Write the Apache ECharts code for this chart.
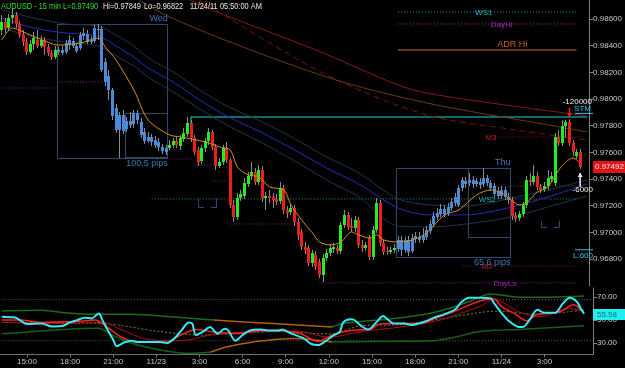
<!DOCTYPE html>
<html><head><meta charset="utf-8">
<script src="https://cdn.jsdelivr.net/npm/echarts@6/dist/echarts.min.js"></script>
<style>html,body{margin:0;padding:0;background:#000;}#c{width:625px;height:368px;}</style>
</head><body><div id="c"></div><script>
// ---------------- DATA ----------------
// 15-min bars, AUDUSD, 11/22 13:15 .. 11/24 05:45 (163 bars)
const openP = [
0.98518,0.98578,0.98533,0.98608,0.98630,0.98563,0.98480,0.98428,0.98353,0.98413,
0.98443,0.98398,0.98443,0.98390,0.98345,0.98315,0.98353,0.98368,0.98353,0.98413,
0.98435,0.98398,0.98383,0.98473,0.98488,0.98428,0.98435,0.98518,0.98525,0.98278,
0.98173,0.98068,0.97933,0.97768,0.97881,0.97776,0.97836,0.97813,0.97896,0.97828,
0.97753,0.97686,0.97716,0.97693,0.97678,0.97641,0.97603,0.97633,0.97656,0.97686,
0.97648,0.97701,0.97738,0.97821,0.97708,0.97618,0.97536,0.97633,0.97686,0.97753,
0.97641,0.97498,0.97528,0.97633,0.97543,0.97206,0.97116,0.97258,0.97273,0.97363,
0.97423,0.97453,0.97378,0.97468,0.97258,0.97273,0.97266,0.97251,0.97236,0.97333,
0.97168,0.97153,0.97183,0.97078,0.97003,0.96891,0.96883,0.96771,0.96831,0.96778,
0.96681,0.96808,0.96846,0.96876,0.96883,0.96861,0.97056,0.97131,0.97048,0.97033,
0.97093,0.96906,0.96883,0.96958,0.96816,0.97018,0.97221,0.96921,0.96861,0.96853,
0.96868,0.96876,0.96943,0.96868,0.96943,0.96861,0.96950,0.96966,0.96943,0.96966,
0.97011,0.97063,0.97116,0.97138,0.97176,0.97146,0.97183,0.97221,0.97206,0.97333,
0.97386,0.97371,0.97393,0.97363,0.97378,0.97363,0.97408,0.97371,0.97348,0.97311,
0.97273,0.97318,0.97266,0.97243,0.97123,0.97108,0.97138,0.97206,0.97393,0.97378,
0.97423,0.97341,0.97326,0.97348,0.97401,0.97371,0.97716,0.97671,0.97798,0.97828,
0.97671,0.97573,0.97603];
const highP = [
0.98630,0.98608,0.98638,0.98683,0.98653,0.98585,0.98518,0.98458,0.98443,0.98503,
0.98518,0.98473,0.98465,0.98413,0.98368,0.98398,0.98390,0.98398,0.98443,0.98480,
0.98458,0.98420,0.98503,0.98533,0.98518,0.98473,0.98555,0.98563,0.98548,0.98308,
0.98218,0.98083,0.97963,0.97903,0.97918,0.97866,0.97903,0.97918,0.97918,0.97858,
0.97783,0.97753,0.97738,0.97723,0.97708,0.97663,0.97656,0.97693,0.97708,0.97723,
0.97731,0.97783,0.97866,0.97843,0.97731,0.97641,0.97656,0.97708,0.97783,0.97768,
0.97663,0.97558,0.97656,0.97678,0.97558,0.97243,0.97296,0.97318,0.97408,0.97453,
0.97528,0.97483,0.97506,0.97498,0.97303,0.97318,0.97296,0.97288,0.97378,0.97356,
0.97198,0.97213,0.97206,0.97108,0.97026,0.96928,0.96906,0.96868,0.96861,0.96801,
0.96838,0.96876,0.96913,0.96921,0.96906,0.97078,0.97168,0.97153,0.97108,0.97123,
0.97116,0.96943,0.96928,0.96981,0.97048,0.97258,0.97243,0.96943,0.96891,0.96891,
0.96913,0.96973,0.96973,0.96966,0.96973,0.96988,0.97003,0.97003,0.97033,0.97048,
0.97093,0.97153,0.97183,0.97213,0.97206,0.97221,0.97258,0.97296,0.97356,0.97416,
0.97416,0.97446,0.97423,0.97408,0.97408,0.97483,0.97431,0.97393,0.97371,0.97341,
0.97348,0.97341,0.97296,0.97266,0.97153,0.97161,0.97228,0.97423,0.97446,0.97506,
0.97453,0.97363,0.97378,0.97468,0.97453,0.97746,0.97768,0.97843,0.97845,0.97849,
0.97693,0.97626,0.97626];
const lowP = [
0.98480,0.98495,0.98510,0.98563,0.98533,0.98458,0.98398,0.98330,0.98338,0.98368,
0.98383,0.98383,0.98330,0.98323,0.98293,0.98300,0.98330,0.98330,0.98338,0.98368,
0.98383,0.98345,0.98368,0.98443,0.98413,0.98413,0.98420,0.98443,0.98203,0.98098,
0.97993,0.97843,0.97746,0.97558,0.97738,0.97753,0.97783,0.97783,0.97813,0.97708,
0.97663,0.97671,0.97648,0.97633,0.97611,0.97588,0.97581,0.97618,0.97633,0.97633,
0.97618,0.97678,0.97716,0.97678,0.97581,0.97498,0.97513,0.97603,0.97656,0.97618,
0.97468,0.97483,0.97506,0.97521,0.97183,0.97078,0.97093,0.97236,0.97251,0.97341,
0.97393,0.97356,0.97356,0.97228,0.97168,0.97221,0.97183,0.97206,0.97213,0.97138,
0.97108,0.97131,0.97048,0.96943,0.96868,0.96838,0.96748,0.96741,0.96718,0.96658,
0.96628,0.96786,0.96823,0.96846,0.96838,0.96838,0.97033,0.97018,0.97003,0.97003,
0.96883,0.96853,0.96861,0.96793,0.96793,0.96996,0.96898,0.96830,0.96831,0.96838,
0.96846,0.96853,0.96823,0.96846,0.96822,0.96846,0.96921,0.96921,0.96921,0.96943,
0.96988,0.97041,0.97093,0.97116,0.97116,0.97123,0.97161,0.97198,0.97191,0.97311,
0.97333,0.97348,0.97333,0.97341,0.97326,0.97341,0.97348,0.97311,0.97266,0.97251,
0.97251,0.97243,0.97213,0.97093,0.97078,0.97086,0.97116,0.97183,0.97348,0.97356,
0.97318,0.97296,0.97303,0.97318,0.97378,0.97348,0.97648,0.97648,0.97708,0.97648,
0.97573,0.97551,0.97476];
const closeP = [
0.98578,0.98533,0.98608,0.98630,0.98563,0.98480,0.98428,0.98353,0.98413,0.98458,
0.98398,0.98443,0.98390,0.98345,0.98315,0.98368,0.98368,0.98345,0.98420,0.98443,
0.98398,0.98360,0.98480,0.98495,0.98428,0.98443,0.98533,0.98525,0.98218,0.98128,
0.98068,0.97873,0.97768,0.97881,0.97761,0.97836,0.97806,0.97896,0.97843,0.97731,
0.97686,0.97716,0.97678,0.97656,0.97641,0.97611,0.97633,0.97656,0.97686,0.97656,
0.97708,0.97746,0.97821,0.97708,0.97603,0.97528,0.97633,0.97686,0.97753,0.97641,
0.97498,0.97528,0.97633,0.97543,0.97206,0.97116,0.97258,0.97288,0.97371,0.97423,
0.97453,0.97378,0.97468,0.97258,0.97273,0.97258,0.97243,0.97228,0.97333,0.97168,
0.97146,0.97183,0.97078,0.96981,0.96891,0.96868,0.96771,0.96846,0.96741,0.96681,
0.96808,0.96846,0.96883,0.96891,0.96861,0.97056,0.97131,0.97041,0.97033,0.97093,
0.96906,0.96883,0.96906,0.96816,0.97018,0.97221,0.96921,0.96853,0.96853,0.96868,
0.96883,0.96943,0.96868,0.96943,0.96853,0.96958,0.96973,0.96943,0.96973,0.97018,
0.97063,0.97123,0.97146,0.97176,0.97138,0.97191,0.97228,0.97266,0.97333,0.97393,
0.97363,0.97393,0.97363,0.97386,0.97356,0.97408,0.97371,0.97333,0.97288,0.97273,
0.97318,0.97266,0.97243,0.97123,0.97101,0.97138,0.97206,0.97393,0.97378,0.97423,
0.97341,0.97318,0.97348,0.97408,0.97423,0.97716,0.97671,0.97798,0.97828,0.97671,
0.97603,0.97603,0.97490];

// session boxes: [fromBar, toBar, high, low]
const sessionBoxes = [[16,46,0.98563,0.97558],[111,142,0.97483,0.96816]];
const innerBoxes   = [[35,46,0.97896,0.97566],[131,142,0.97483,0.96966]];
const boxDays  = ['Wed','Thu'];
const boxPips  = ['100.5 pips','65.6 pips'];
const brackets = [[55,60,0.97258,0.97191],[151,156,0.97093,0.97041]];

// moving averages, read as [bar, price]
const maFast = [[0,0.98443],[3,0.98533],[6,0.98503],[10,0.98458],[16,0.98405],[22,0.98420],[27,0.98458],[29,0.98390],[32,0.98293],[37,0.98068],[41,0.97843],[47,0.97731],[50,0.97716],[57,0.97678],[61,0.97641],[64,0.97618],[66,0.97490],[69,0.97431],[72,0.97416],[75,0.97341],[79,0.97318],[81,0.97206],[84,0.97093],[87,0.96996],[89,0.96928],[92,0.96906],[95,0.96928],[98,0.97003],[100,0.96981],[103,0.96958],[105,0.96981],[107,0.96943],[111,0.96928],[115,0.96943],[119,0.96996],[124,0.97131],[128,0.97168],[133,0.97281],[137,0.97318],[140,0.97296],[142,0.97258],[145,0.97206],[147,0.97221],[150,0.97303],[153,0.97341],[156,0.97468],[158,0.97528],[160,0.97558],[162,0.97521]];
const maFastRising = [[0,3],[92,98],[103,105],[111,137],[145,162]];
const maMid = [[0,0.98608],[9,0.98533],[18,0.98495],[27,0.98473],[32,0.98398],[37,0.98315],[41,0.98233],[48,0.98128],[55,0.98000],[63,0.97873],[73,0.97746],[82,0.97618],[91,0.97483],[100,0.97363],[111,0.97183],[120,0.97131],[130,0.97131],[143,0.97191],[153,0.97266],[164,0.97363]];
const maMidUpper = [[0,0.98668],[9,0.98608],[18,0.98563],[27,0.98548],[32,0.98480],[37,0.98398],[41,0.98308],[48,0.98203],[55,0.98075],[63,0.97948],[73,0.97828],[82,0.97701],[91,0.97566],[100,0.97446],[111,0.97251],[120,0.97206],[130,0.97198],[143,0.97258],[153,0.97318],[164,0.97393]];
const maMidLower = [[0,0.98533],[9,0.98465],[18,0.98428],[27,0.98398],[32,0.98323],[37,0.98248],[41,0.98165],[48,0.98053],[55,0.97933],[63,0.97806],[73,0.97671],[82,0.97536],[91,0.97393],[100,0.97266],[111,0.97048],[120,0.97041],[130,0.97063],[143,0.97116],[153,0.97191],[164,0.97273]];
const maSlowA = [[40,0.98931],[55,0.98713],[88,0.98368],[111,0.98105],[119,0.98045],[139,0.97963],[164,0.97873]];
const maSlowB = [[48,0.98856],[57,0.98713],[91,0.98180],[119,0.97881],[144,0.97768],[164,0.97693]];
const maSlowC = [[30,0.98893],[47,0.98615],[91,0.98165],[119,0.97971],[153,0.97806],[164,0.97753]];
const stmLine = [[53,0.97806],[53,0.97866],[164,0.97866]];

// level lines
const levelNames  = ['WS1','DayHi','ADR Hi','M3','WS2','','M2','DayLo','','','','','',''];
const levelPrices = [0.98653,0.98563,0.98368,0.97716,0.97251,0.97348,0.96748,0.96621,0.98083,0.98128,0.97551,0.97506,0.97386,0.97063];
const levelFrom   = [111,111,111,138,42,136,129,89,0,16,47,54,59,64];
const levelTo     = [161,161,161,163,161,163,161,161,15,28,53,59,63,82];
const levelLabelAt= [135,140,143,137,136,0,136,140.5,0,0,0,0,0,0];

// RSI panel
const rsi = [[0,53],[3,52.5],[4,52],[7,46.7],[11,47],[14,44.4],[17,45],[19,48],[21,50],[23,52],[25,51.5],[27,55.8],[28,50],[29,44],[31,32.8],[32,27.2],[34,30.5],[36,32],[38,30.8],[42,31],[44,30.8],[46,30],[48,34],[50,41],[52,48],[53,47],[54,37],[56,40],[58,44],[59,41],[60,38],[62,42.5],[63,41],[65,32],[67,37],[69,41],[72,41.7],[74,41],[77,41],[78,41.7],[80,39],[84,34],[86,29.4],[88,28.3],[90,31.4],[92,36],[94,39.7],[95,48],[97,50.8],[98,50.3],[100,45],[102,41.7],[103,43.9],[105,50.8],[106,53.6],[108,49],[109,47],[112,47],[114,45.8],[116,47],[118,49],[120,51.7],[123,55],[126,59],[128,66],[130,69.4],[133,69.6],[136,69],[137,64.7],[139,56.4],[141,49.4],[144,43.9],[145,43.9],[147,50.8],[149,59],[151,56.4],[154,56.4],[156,64],[158,69.4],[160,66],[161,60.5],[162,55.58]];
const rsiSignal = [[0,50],[5,50],[11,48],[22,49],[26,50],[28,47],[33,35.6],[37,31.4],[46,30.6],[49,35.6],[54,41.7],[59,39.7],[66,38.3],[72,41],[77,41],[83,38.3],[88,31.4],[92,37],[97,41],[103,42.5],[105,46.7],[111,47],[116,47],[121,52],[127,59],[133,66.7],[137,68.3],[139,62],[143,55],[146,49.4],[149,55],[155,57],[159,63.3],[162,56.4]];
const rsiSlow = [[0,48],[17,47],[28,48],[33,42],[41,33],[50,32],[58,37],[72,40],[83,40],[91,35],[100,40],[111,44],[122,50],[133,62],[137,68],[144,57],[150,53],[158,60],[162,58]];
const rsiBase = [[0,48],[28,47],[44,40],[55,37],[77,40],[91,38],[100,45],[111,46],[122,51],[138,57.8],[149,55],[162,59]];
const bandUpperA = [[0,58],[11,58.5],[19,56],[27,55],[36,55],[47,53],[55,51],[59,50]];
const bandUpperMid = [[59,50],[70,48],[81,46],[92,44]];
const bandUpperB = [[92,44],[95,47],[111,52],[122,58],[130,66],[136,72.8],[144,70],[153,70],[162,71]];
const bandLowerA = [[0,38],[27,43],[30,38],[36,30],[44,24],[52,21],[58,22]];
const bandLowerMid = [[58,22],[63,27],[70,31],[81,34],[92,31]];
const bandLowerB = [[92,31],[110,31.5],[120,32],[126,35],[133,40],[145,42],[162,45]];
const rsiLevels = [68,32];
const rsiTicks = [30,50,70];
const lastRsi = 55.58;
const lastPriceTag = '0.97492';

// ---------------- BUILD ----------------
const NBARS = 165;
const categories = [];
{ let t = new Date(2011,10,22,13,15);
  for (let i=0;i<NBARS;i++){ const d=new Date(t.getTime()+i*900000);
    const p=n=>String(n).padStart(2,'0');
    categories.push(p(d.getMonth()+1)+'/'+p(d.getDate())+' '+p(d.getHours())+':'+p(d.getMinutes())); } }
function isTick(i,v){ if(i>=openP.length-2) return false; const hm=v.split(' ')[1]; const h=+hm.split(':')[0]; return hm.endsWith(':00') && h%3===0; }
function fmtTick(v){ const [md,hm]=v.split(' '); const h=+hm.split(':')[0]; return h===0? md : h+':00'; }

const inBox = i => sessionBoxes.some(b=>i>=b[0]&&i<=b[1]);
const candleData = openP.map((o,i)=>[i,o,closeP[i],lowP[i],highP[i], inBox(i)?2:(closeP[i]>=o?0:1)]);

const FONT='Liberation Sans, Arial, sans-serif';
const C_UP='#1fee1f', C_DN='#f01c1c', C_BOX='#4a8ad6', C_ORANGE='#d4901e', C_CYAN='#5cb8e8';
const levelStyle = {'WS1':['#17a0a0','dot'],'DayHi':['#a020a8','dot'],'ADR Hi':['#8a4a1c','solid'],'M3':['#8a1616','dot'],'WS2':['#169494','dot'],'M2':['#8a1616','dot'],'DayLo':['#9020a0','dot']};
const levelTextColor = {'WS1':'#1cb4c4','DayHi':'#b020c4','ADR Hi':'#c8641e','M3':'#b02222','WS2':'#1cb0b0','M2':'#b02222','DayLo':'#9a24b0'};

const pieces=[]; { let pos=0; maFastRising.forEach(r=>{ if(r[0]>pos) pieces.push({gte:pos,lt:r[0],color:C_ORANGE}); pieces.push({gte:r[0],lt:r[1]+0.001,color:C_CYAN}); pos=r[1]+0.001; }); pieces.push({gte:pos,lte:200,color:C_ORANGE}); }

const series=[];
const L = (data,color,width,type,extra)=>Object.assign({type:'line',xAxisIndex:0,yAxisIndex:0,data,symbol:'none',silent:true,smooth:0.3,lineStyle:{color,width,type:type||'solid'},z:3},extra||{});
series.push({type:'custom',xAxisIndex:0,yAxisIndex:0,silent:true,z:1,clip:true,
  renderItem:(p,api)=>{const a=api.coord([api.value(0),api.value(2)]),b=api.coord([api.value(1),api.value(3)]);const hw=api.size([1,0])[0]/2;
    const x0=Math.round(a[0]-hw)+0.5,x1=Math.round(b[0]+hw)-0.5,y0=Math.round(a[1])+0.5,y1=Math.round(b[1])+0.5;
    return {type:'rect',shape:{x:x0,y:y0,width:x1-x0,height:y1-y0},style:{fill:null,stroke:'#2c4a66',lineWidth:1}};},
  encode:{x:[0,1],y:[2,3]},data:sessionBoxes.concat(innerBoxes)});
series.push({type:'custom',xAxisIndex:0,yAxisIndex:0,silent:true,z:1,
  renderItem:(p,api)=>{const a=api.coord([api.value(0),api.value(2)]),b=api.coord([api.value(1),api.value(3)]);
    const x0=Math.round(a[0])+0.5,x1=Math.round(b[0])+0.5,y0=Math.round(a[1])+0.5,y1=Math.round(b[1])+0.5,w=(x1-x0)*0.3;
    return {type:'group',children:[{type:'polyline',shape:{points:[[x0,y0],[x0,y1],[x0+w,y1]]},style:{stroke:'#2c4a70',lineWidth:1,fill:null}},
      {type:'polyline',shape:{points:[[x1,y0],[x1,y1],[x1-w,y1]]},style:{stroke:'#2c4a70',lineWidth:1,fill:null}}]};},
  encode:{x:[0,1],y:[2,3]},data:brackets});
levelPrices.forEach((pr,k)=>{ const nm=levelNames[k]; const st=levelStyle[nm]||(k===5?['#5a5a5a','dot']:['#8a1c96','dot']);
  series.push(L([[levelFrom[k],pr],[levelTo[k],pr]],st[0],nm==='ADR Hi'?1.5:1,st[1]==='dot'?[1,2]:'solid',{smooth:false,z:2})); });
series.push(L(stmLine,'#188c8c',1.5,'solid',{smooth:false,z:2}));
series.push(L(maSlowA,'#861818',1));
series.push(L(maSlowB,'#7a1212',1,[6,4]));
series.push(L(maSlowC,'#6a3a12',1));
series.push(L(maMidUpper,'#1c3650',1));
series.push(L(maMidLower,'#1c3650',1));
series.push(L(maMid,'#2a2ab8',1));
series.push({type:'custom',xAxisIndex:0,yAxisIndex:0,silent:true,z:4,clip:true,
  renderItem:(p,api)=>{const i=api.value(0),o=api.value(1),c=api.value(2),l=api.value(3),h=api.value(4),k=api.value(5);
    const po=api.coord([i,o]),pc=api.coord([i,c]),pl=api.coord([i,l]),ph=api.coord([i,h]);
    const x0=Math.round(po[0]-1.5);const top=Math.round(Math.min(po[1],pc[1])),bot=Math.round(Math.max(po[1],pc[1]));
    const fill=k===2?C_BOX:(k===0?C_UP:C_DN);
    return {type:'group',children:[{type:'line',shape:{x1:x0+1.5,y1:ph[1],x2:x0+1.5,y2:pl[1]},style:{stroke:'#8c8c8c',lineWidth:1}},
      {type:'rect',shape:{x:x0,y:top,width:3,height:Math.max(1,bot-top)},style:{fill:fill}}]};},
  encode:{x:0,y:[1,2,3,4]},data:candleData});
const fastIdx = series.length;
series.push(L(maFast,C_ORANGE,1,'solid',{z:5}));
const R=(data,color,width,type,z)=>({type:'line',xAxisIndex:1,yAxisIndex:1,data,symbol:'none',silent:true,smooth:0.3,lineStyle:{color,width,type:type||'solid'},z:z||3});
rsiLevels.forEach(v=>series.push(R([[0,v],[164,v]],'#5a5a5a',1,[1,2],1)));
series.push(R(bandUpperA,'#1c6a1c',1.5)); series.push(R(bandUpperMid,'#b0600c',1.5)); series.push(R(bandUpperB,'#1c6a1c',1.5));
series.push(R(bandLowerA,'#166016',1.5)); series.push(R(bandLowerMid,'#b0600c',1.5)); series.push(R(bandLowerB,'#166016',1.5));
series.push(R(rsiBase,'#8a7a1a',1,[2,2]));
series.push(R(rsiSlow,'#b01010',1));
series.push(R(rsiSignal,'#ff2020',1.5,'solid',4));
series.push(R(rsi,'#30eaf8',2,'solid',5));

const axisLblColor='#c8c8c8';
const option={
  backgroundColor:'#000', animation:false,
  grid:[{left:0,right:32,top:0,height:285.7},{left:0,right:32,top:288,height:66.5}],
  xAxis:[
    {type:'category',gridIndex:0,data:categories,boundaryGap:true,show:false},
    {type:'category',gridIndex:1,data:categories,boundaryGap:true,
     axisLine:{show:true,lineStyle:{color:'#707070'}},
     axisTick:{show:true,length:3,alignWithLabel:true,interval:isTick,lineStyle:{color:'#707070'}},
     axisLabel:{interval:isTick,formatter:fmtTick,color:axisLblColor,fontSize:8,fontFamily:FONT,margin:3},
     splitLine:{show:false}}
  ],
  yAxis:[
    {type:'value',gridIndex:0,position:'right',min:0.966,max:0.98743,interval:0.002,
     axisLine:{show:true,lineStyle:{color:'#808080'}},axisTick:{show:true,length:4,lineStyle:{color:'#808080'}},
     axisLabel:{color:axisLblColor,fontSize:8,fontFamily:FONT,margin:4,showMinLabel:false,showMaxLabel:false,formatter:v=>v.toFixed(5)},
     splitLine:{show:false}},
    {type:'value',gridIndex:1,position:'right',min:20,max:78,interval:10,
     axisLine:{show:true,lineStyle:{color:'#808080'}},
     axisTick:{show:true,length:4,customValues:rsiTicks,lineStyle:{color:'#808080'}},
     axisLabel:{color:axisLblColor,fontSize:8,fontFamily:FONT,margin:4,customValues:rsiTicks,formatter:v=>v.toFixed(2)},
     splitLine:{show:false}}
  ],
  visualMap:[{type:'piecewise',show:false,seriesIndex:fastIdx,dimension:0,pieces:pieces}],
  series:series
};
const chart=echarts.init(document.getElementById('c'));
chart.setOption(option);

// ---------------- annotations ----------------
const P=(i,p)=>chart.convertToPixel({xAxisIndex:0,yAxisIndex:0},[i,p]);
const band=P(1,0.97)[0]-P(0,0.97)[0];
const g=[];
const T=(x,y,text,fill,align,va,size,sx)=>g.push({type:'text',x,y,silent:true,z:50,scaleX:sx||1,style:{text,fill,font:(size||8)+'px '+FONT,align:align||'left',verticalAlign:va||'middle'}});
// title
T(1,7,'AUDUSD - 15 min','#2ee02e','left','middle',9,0.82); T(63,7,'L='+closeP[closeP.length-1].toFixed(5),'#2ee02e','left','middle',9,0.82);
T(103,7,'Hi=0.97849','#e8e8e8','left','middle',9,0.82); T(144,7,'Lo=0.96822','#e8e8e8','left','middle',9,0.82);
T(190,7,'11/24/11','#e8e8e8','left','middle',9,0.82); T(220,7,'05:50:00 AM','#e8e8e8','left','middle',9,0.82);
// level labels
levelNames.forEach((nm,k)=>{ if(!nm) return; const pt=P(levelLabelAt[k],levelPrices[k]);
  if(nm==='ADR Hi') T(pt[0],pt[1]-1,nm,levelTextColor[nm],'center','bottom',9);
  else T(pt[0],pt[1]+0.5,nm,levelTextColor[nm],'center','middle',8); });
// box labels
sessionBoxes.forEach((b,k)=>{ const tr=P(b[1],b[2]), br=P(b[1],b[3]); const xr=tr[0]+band/2;
  T(xr,tr[1]-1,boxDays[k],'#3b78b2','right','bottom',9);
  T(xr,br[1]+1,boxPips[k],'#3b78b2','right','top',9); });
// right side tags
const last=candleData.length-1;
const lp=P(last,closeP[last]);
g.push({type:'rect',shape:{x:593,y:Math.round(lp[1])-6,width:32,height:12},style:{fill:'#e01414'},z:50});
T(595,Math.round(lp[1]),lastPriceTag,'#ffe6e6');
const rp=chart.convertToPixel({xAxisIndex:1,yAxisIndex:1},[last,lastRsi]);
g.push({type:'rect',shape:{x:593,y:Math.round(rp[1])-5,width:32,height:11},style:{fill:'#22f0f0'},z:50});
T(597,Math.round(rp[1])+0.5,lastRsi.toFixed(2),'#0c6e6e');
const stm=P(164,stmLine[1][1]);
T(592,stm[1]-15,'-120000','#f0f0f0','right'); T(591,stm[1]-8,'STM','#2cc8f0','right');
g.push({type:'line',shape:{x1:575,y1:stm[1]-3.5,x2:593,y2:stm[1]-3.5},style:{stroke:'#2cc8f0',lineWidth:1},z:50});
const ua=P(last,0.97341), ub=P(last,0.97446);
g.push({type:'polyline',shape:{points:[[ua[0],ua[1]],[ua[0],ub[1]]]},style:{stroke:'#f0f0f0',lineWidth:1.5},z:50});
g.push({type:'polygon',shape:{points:[[ua[0]-2.5,ub[1]+4],[ua[0]+2.5,ub[1]+4],[ua[0],ub[1]]]},style:{fill:'#f0f0f0'},z:50});
T(593,ua[1]+3,'-6000','#f0f0f0','right');
const da=P(159,0.97933), db=P(159,0.97866);
g.push({type:'polyline',shape:{points:[[da[0],da[1]],[da[0],db[1]]]},style:{stroke:'#ff2020',lineWidth:1.5},z:50});
g.push({type:'polygon',shape:{points:[[da[0]-2.5,db[1]-4],[da[0]+2.5,db[1]-4],[da[0],db[1]]]},style:{fill:'#ff2020'},z:50});
const lq=P(164,0.96828);
g.push({type:'line',shape:{x1:575,y1:lq[1]-5.5,x2:593,y2:lq[1]-5.5},style:{stroke:'#2cc8f0',lineWidth:1},z:50});
T(593,lq[1],'L:600','#2cc8f0','right');
chart.setOption({graphic:{elements:g}});
</script></body></html>
